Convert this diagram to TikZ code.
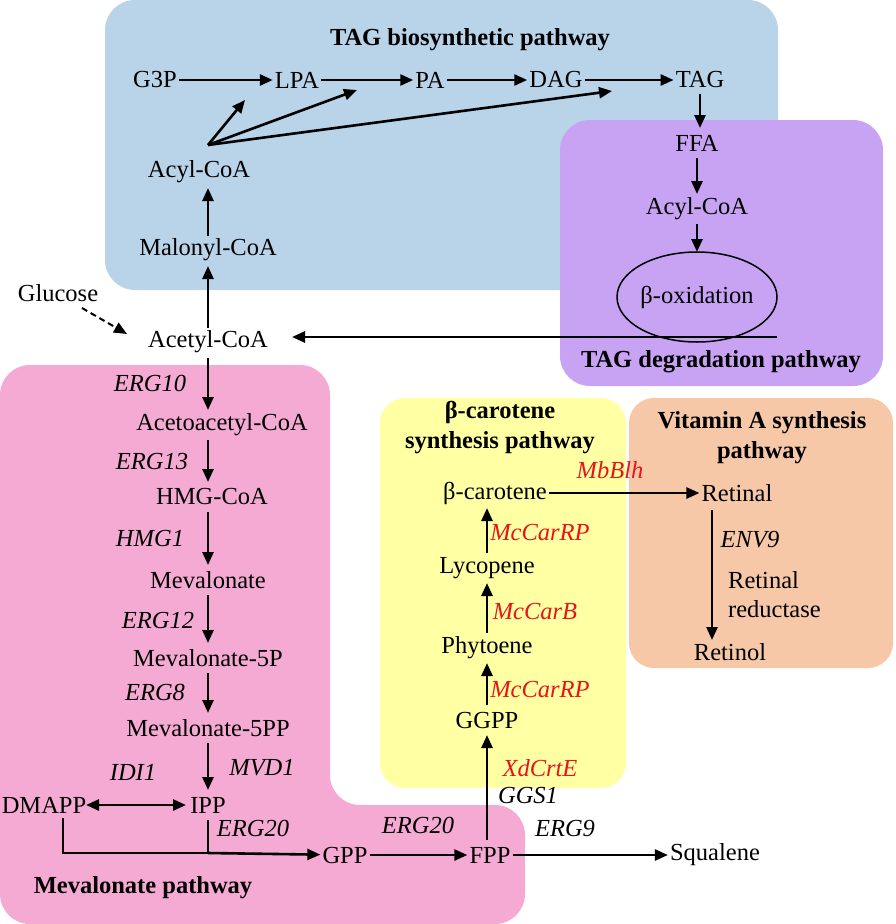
\documentclass[tikz,border=0pt]{standalone}
\usepackage{fontspec}
\setmainfont{Liberation Serif}
\usetikzlibrary{arrows.meta}
\definecolor{cblue}{HTML}{B9D3E9}
\definecolor{cpurp}{HTML}{C9A3F3}
\definecolor{cpink}{HTML}{F5AAD3}
\definecolor{cyel}{HTML}{FFFFA3}
\definecolor{corg}{HTML}{F6C8A8}
\definecolor{cred}{HTML}{E8141B}
\begin{document}
\begin{tikzpicture}[x=1pt,y=-1pt,
  every node/.style={font=\fontsize{24.5}{29}\selectfont, inner sep=2pt},
  t/.style={font=\fontsize{24.5}{30}\selectfont\bfseries, align=center},
  g/.style={font=\fontsize{24.5}{29}\selectfont\itshape},
  r/.style={font=\fontsize{24.5}{29}\selectfont\itshape, text=cred},
  a/.style={line width=2.6pt, -{Triangle[length=13pt,width=11pt]}},
  l/.style={line width=2.6pt}]
\useasboundingbox (0,0) rectangle (896,924);
\fill[cblue, rounded corners=30] (105,0) rectangle (778,290);
\fill[cpurp, rounded corners=30] (560,120) rectangle (883,386);
\fill[cpink, rounded corners=30] (0,924) -- (0,365) -- (330,365) -- (330,805) -- (525,805) -- (525,924) -- cycle;
\fill[cyel, rounded corners=25] (380,398) rectangle (626,788);
\fill[corg, rounded corners=25] (629,398) rectangle (893,668);

\node[t] (t1) at (470,40) {TAG biosynthetic pathway};
\node (g3p) at (155,80) {G3P};
\node (lpa) at (297,80) {LPA};
\node (pa) at (430,80) {PA};
\node (dag) at (556,80) {DAG};
\node (tag) at (700,80) {TAG};
\node (acyl) at (199,172) {Acyl-CoA};
\node (mal) at (208,250) {Malonyl-CoA};
\node (glu) at (58,293) {Glucose};
\node (ace) at (208,342) {Acetyl-CoA};
\node (ffa) at (697,143) {FFA};
\node (acyl2) at (697,209) {Acyl-CoA};
\draw[line width=1.5pt] (697,297) ellipse (80 and 45);
\node (box) at (697,297) {β-oxidation};
\node[t] (t2) at (721,362) {TAG degradation pathway};

\draw[a] (g3p) -- (lpa);
\draw[a] (lpa) -- (pa);
\draw[a] (pa) -- (dag);
\draw[a] (dag) -- (tag);
\draw[a] (700,94) -- (700,128);
\draw[a] (697,158) -- (697,194);
\draw[a] (697,224) -- (697,252);
\coordinate (ac) at (208,145);
\draw[a] (ac) -- (245,100);
\draw[a] (ac) -- (357,90);
\draw[a] (ac) -- (612,91);
\draw[a] (208,236) -- (208,188);
\draw[a] (208,328) -- (208,266);
\draw[a, dashed, dash pattern=on 6pt off 4pt, line width=2pt] (82,308) -- (127,334);
\draw[a] (777,337) -- (292,337);

% mevalonate
\node (aa) at (222,425) {Acetoacetyl-CoA};
\node (hmg) at (212,497) {HMG-CoA};
\node (mev) at (208,580) {Mevalonate};
\node (m5p) at (208,658) {Mevalonate-5P};
\node (m5pp) at (208,728) {Mevalonate-5PP};
\node (ipp) at (208,805) {IPP};
\node (dmapp) at (44,805) {DMAPP};
\node (gpp) at (345,855) {GPP};
\node (fpp) at (490,855) {FPP};
\node (sq) at (715,855) {Squalene};
\node[g] at (150,383) {ERG10};
\node[g] at (152,462) {ERG13};
\node[g] at (150,538) {HMG1};
\node[g] at (158,620) {ERG12};
\node[g] at (155,692) {ERG8};
\node[g] at (262,768) {MVD1};
\node[g] at (133,772) {IDI1};
\node[g] at (253,828) {ERG20};
\node[g] at (418,825) {ERG20};
\node[g] at (565,828) {ERG9};
\node[t] at (143,888) {Mevalonate pathway};
\draw[a] (208,358) -- (208,410);
\draw[a] (208,440) -- (208,482);
\draw[a] (208,512) -- (208,565);
\draw[a] (208,595) -- (208,643);
\draw[a] (208,673) -- (208,713);
\draw[a] (208,743) -- (208,790);
\draw[line width=2.6pt, {Triangle[length=13pt,width=11pt]}-{Triangle[length=13pt,width=11pt]}] (86,805) -- (186,805);
\draw[l] (63,818) -- (63,853) -- (208,853);
\draw[l] (208,820) -- (208,853);
\draw[a] (208,853) -- (gpp);
\draw[a] (gpp) -- (fpp);
\draw[a] (fpp) -- (sq);

% carotene
\node[t] at (500,428) {β-carotene\\synthesis pathway};
\node (bc) at (495,493) {β-carotene};
\node (lyc) at (487,568) {Lycopene};
\node (phy) at (487,648) {Phytoene};
\node (ggpp) at (487,720) {GGPP};
\node[r] at (610,470) {MbBlh};
\node[r] at (540,533) {McCarRP};
\node[r] at (535,612) {McCarB};
\node[r] at (540,690) {McCarRP};
\node[r] at (540,768) {XdCrtE};
\node[g] at (528,795) {GGS1};
\draw[a] (487,840) -- (487,735);
\draw[a] (487,633) -- (487,583);
\draw[a] (487,705) -- (487,663);
\draw[a] (487,553) -- (487,508);

\node[t] at (762,438) {Vitamin A synthesis\\pathway};
\node (ret) at (737,493) {Retinal};
\node[g] at (750,540) {ENV9};
\node[align=left, anchor=west] at (726,595) {Retinal\\reductase};
\node (rol) at (730,652) {Retinol};
\draw[a] (bc) -- (ret);
\draw[a] (712,510) -- (712,640);
\end{tikzpicture}
\end{document}
